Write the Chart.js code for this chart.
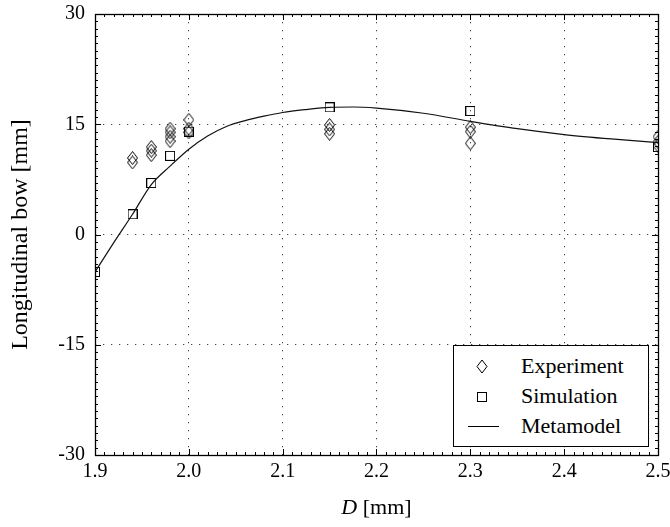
<!DOCTYPE html>
<html>
<head>
<meta charset="utf-8">
<script src="https://cdn.jsdelivr.net/npm/chart.js@4"></script>
<style>
  html, body { margin: 0; padding: 0; background: #fff; }
  #wrap { position: relative; width: 670px; height: 527px; }
  #c { position: absolute; left: 0; top: 0; }
  .legend { position: absolute; left: 453px; top: 345px; width: 194px; height: 100px;
    border: 1px solid #000; background: #fff; font-family: "Liberation Serif", serif; font-size: 22px; color: #000; }
  .row { position: absolute; left: 0; width: 194px; height: 30px; }
  .row svg { position: absolute; left: 12px; top: 0; }
  .row span { position: absolute; left: 67px; top: 2px; line-height: 26px; }
  .xtitle { position: absolute; left: 95px; width: 563px; top: 494px; text-align: center;
    font-family: "Liberation Serif", serif; font-size: 22px; color: #000; }
</style>
</head>
<body>
<div id="wrap">
  <canvas id="c" width="670" height="527"></canvas>
  <div class="legend">
    <div class="row" style="top:5px">
      <svg width="34" height="30"><path d="M16 9 L21 15.5 L16 22 L11 15.5 Z" fill="none" stroke="#000" stroke-width="1"/></svg>
      <span>Experiment</span>
    </div>
    <div class="row" style="top:35px">
      <svg width="34" height="30"><rect x="11.5" y="11.5" width="9" height="9" fill="none" stroke="#000" stroke-width="1"/></svg>
      <span>Simulation</span>
    </div>
    <div class="row" style="top:65px">
      <svg width="34" height="30"><line x1="2" y1="15.5" x2="33" y2="15.5" stroke="#000" stroke-width="1"/></svg>
      <span>Metamodel</span>
    </div>
  </div>
  <div class="xtitle"><i>D</i> [mm]</div>
</div>
<script>
// ---- data ----
const expX = [1.94, 1.94, 1.96, 1.96, 1.96, 1.98, 1.98, 1.98, 1.98, 2.0, 2.0, 2.0, 2.15, 2.15, 2.15, 2.3, 2.3, 2.3, 2.5, 2.5, 2.5];
const expY = [10.4, 9.8, 11.9, 11.4, 10.8, 14.4, 13.9, 13.3, 12.7, 15.6, 14.4, 13.9, 14.9, 14.3, 13.7, 14.6, 14.0, 12.4, 13.3, 12.6, 12.1];

const simX = [1.9, 1.94, 1.96, 1.98, 2.0, 2.15, 2.3, 2.5];
const simY = [-5.1, 2.75, 7.0, 10.7, 14.0, 17.3, 16.8, 11.9];

const metaX = [1.9, 1.92, 1.94, 1.96, 1.98, 2.0, 2.02, 2.04, 2.06, 2.08, 2.1, 2.125, 2.15, 2.175, 2.2, 2.25, 2.3, 2.35, 2.4, 2.45, 2.5];
const metaY = [-5.1, -1.1, 2.75, 6.8, 9.3, 11.6, 13.4, 14.7, 15.5, 16.1, 16.6, 17.0, 17.3, 17.35, 17.2, 16.5, 15.4, 14.4, 13.6, 13.0, 12.5];

const xTicks = [1.9, 2.0, 2.1, 2.2, 2.3, 2.4, 2.5];
const yTicks = [-30, -15, 0, 15, 30];

const pairs = (xs, ys) => xs.map((x, i) => ({ x: x, y: ys[i] }));

// marker images
function diamondImg() {
  const c = document.createElement('canvas'); c.width = 11; c.height = 14;
  const g = c.getContext('2d'); g.strokeStyle = '#000'; g.lineWidth = 1;
  g.beginPath(); g.moveTo(5.5, 0.5); g.lineTo(10.5, 7); g.lineTo(5.5, 13.5); g.lineTo(0.5, 7); g.closePath(); g.stroke();
  return c;
}
function squareImg() {
  const c = document.createElement('canvas'); c.width = 10; c.height = 10;
  const g = c.getContext('2d'); g.strokeStyle = '#000'; g.lineWidth = 1;
  g.strokeRect(0.5, 0.5, 9, 9);
  return c;
}

const frame = {
  id: 'frame',
  beforeDatasetsDraw(chart) {
    const { ctx, chartArea: a, scales: { x, y } } = chart;
    ctx.save();
    ctx.strokeStyle = '#000';
    ctx.lineWidth = 1;
    ctx.beginPath();
    for (let i = 0; i <= 60; i++) {
      const v = 1.9 + i * 0.01;
      const px = Math.round(x.getPixelForValue(v)) + 0.5;
      const len = (i % 10 === 0) ? 6 : 3;
      ctx.moveTo(px, a.bottom); ctx.lineTo(px, a.bottom - len);
      ctx.moveTo(px, a.top); ctx.lineTo(px, a.top + len);
    }
    for (let i = 0; i <= 60; i++) {
      const v = -30 + i;
      const py = Math.round(y.getPixelForValue(v)) + 0.5;
      const len = (i % 15 === 0) ? 6 : 3;
      ctx.moveTo(a.left, py); ctx.lineTo(a.left + len, py);
      ctx.moveTo(a.right, py); ctx.lineTo(a.right - len, py);
    }
    ctx.stroke();
    ctx.lineWidth = 1.3;
    ctx.strokeRect(Math.round(a.left) + 0.5, Math.round(a.top) + 0.5, Math.round(a.right - a.left), Math.round(a.bottom - a.top));
    ctx.restore();
  }
};

const edgeColor = (ctx) => {
  const v = ctx.tick && ctx.tick.value;
  if (v === undefined) return 'rgba(0,0,0,0)';
  if (Math.abs(v - 1.9) < 1e-6 || Math.abs(v - 2.5) < 1e-6 || v === 30 || v === -30) return 'rgba(0,0,0,0)';
  return '#444';
};

new Chart(document.getElementById('c'), {
  type: 'scatter',
  data: {
    datasets: [
      { label: 'Metamodel', data: pairs(metaX, metaY), showLine: true, pointRadius: 0,
        borderColor: '#111', borderWidth: 1.2, cubicInterpolationMode: 'monotone', fill: false },
      { label: 'Experiment', data: pairs(expX, expY), pointStyle: diamondImg(), pointRadius: 6 },
      { label: 'Simulation', data: pairs(simX, simY), pointStyle: squareImg(), pointRadius: 5 }
    ]
  },
  options: {
    responsive: false,
    animation: false,
    devicePixelRatio: 1,
    layout: { padding: { top: 14, right: 12, left: 0, bottom: 0 } },
    plugins: { legend: { display: false }, tooltip: { enabled: false } },
    scales: {
      x: {
        type: 'linear', min: 1.9, max: 2.5,
        afterBuildTicks: (s) => { s.ticks = xTicks.map(v => ({ value: v })); },
        afterFit: (s) => { s.height = 72; s.paddingLeft = 0; s.paddingRight = 0; },
        ticks: { color: '#000', padding: 5, font: { family: 'Liberation Serif', size: 20 },
          callback: (v) => Number(v).toFixed(1), maxRotation: 0, autoSkip: false },
        grid: { color: edgeColor, lineWidth: 1, drawTicks: false },
        border: { display: false, dash: [1.3, 6.7] }
      },
      y: {
        type: 'linear', min: -30, max: 30,
        afterBuildTicks: (s) => { s.ticks = yTicks.map(v => ({ value: v })); },
        afterFit: (s) => { s.width = 95; s.paddingTop = 0; s.paddingBottom = 0; },
        ticks: { color: '#000', padding: 10, font: { family: 'Liberation Serif', size: 20 } },
        grid: { color: edgeColor, lineWidth: 1, drawTicks: false },
        border: { display: false, dash: [1.3, 6.7] },
        title: { display: true, text: 'Longitudinal bow [mm]', color: '#000',
          font: { family: 'Liberation Serif', size: 24 }, padding: { top: 6, bottom: 0 } }
      }
    }
  },
  plugins: [frame]
});
</script>
</body>
</html>
